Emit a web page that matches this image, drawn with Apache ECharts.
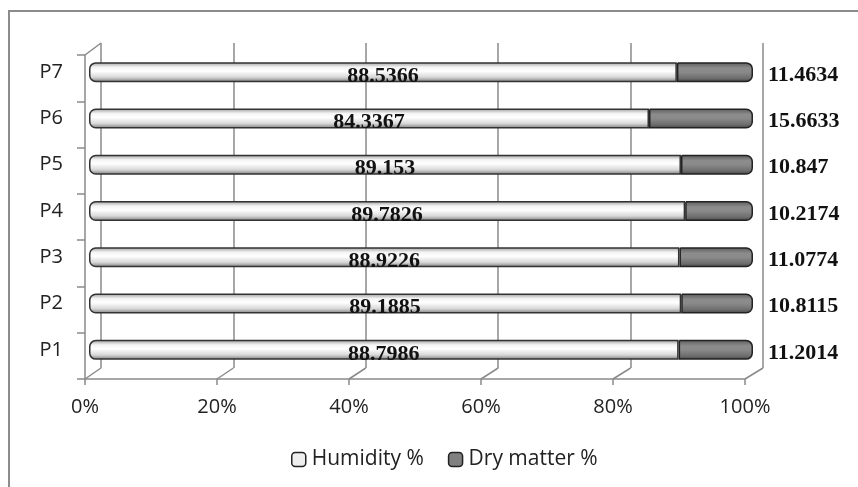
<!DOCTYPE html>
<html>
<head>
<meta charset="utf-8">
<script src="https://cdn.jsdelivr.net/npm/echarts@6/dist/echarts.min.js"></script>
<style>
html,body{margin:0;padding:0;background:#fff;}
#c{width:858px;height:487px;}
</style>
</head>
<body>
<div id="c"></div>
<script>
const categories = ['P1','P2','P3','P4','P5','P6','P7'];
const humidity = [88.7986, 89.1885, 88.9226, 89.7826, 89.153, 84.3367, 88.5366];
const dryMatter = [11.2014, 10.8115, 11.0774, 10.2174, 10.847, 15.6633, 11.4634];
const xTicks = [0, 20, 40, 60, 80, 100];

const chart = echarts.init(document.getElementById('c'), null, {renderer: 'canvas'});
const lineColor = '#8a8a8a';
const sansFont = 'Open Sans';
const serifFont = 'Liberation Serif';

const humGrad = new echarts.graphic.LinearGradient(0, 0, 0, 1, [
  {offset: 0, color: '#9a9a9a'},
  {offset: 0.25, color: '#f4f4f4'},
  {offset: 0.45, color: '#ffffff'},
  {offset: 0.75, color: '#d8d8d8'},
  {offset: 1, color: '#7a7a7a'}
]);
const dryGrad = new echarts.graphic.LinearGradient(0, 0, 0, 1, [
  {offset: 0, color: '#5a5a5a'},
  {offset: 0.3, color: '#8c8c8c'},
  {offset: 0.5, color: '#8a8a8a'},
  {offset: 0.8, color: '#6e6e6e'},
  {offset: 1, color: '#444444'}
]);

const option = {
  backgroundColor: '#fff',
  animation: false,
  grid: [
    {left: 89, right: 105, top: 49, bottom: 114},   // bars
    {left: 85, right: 113, top: 55, bottom: 108},   // front axes
    {left: 101, right: 95, top: 43, bottom: 119}    // back wall grid
  ],
  legend: {
    bottom: 12,
    left: 286,
    itemWidth: 14,
    itemHeight: 14,
    itemGap: 24,
    textStyle: {fontFamily: sansFont, fontSize: 21, color: '#222', padding: [0, 0, 0, 1]},
    data: [
      {name: 'Humidity %', itemStyle: {color: '#eeeeee', borderColor: '#222', borderWidth: 1.5}},
      {name: 'Dry matter %', itemStyle: {color: '#808080', borderColor: '#222', borderWidth: 1.5}}
    ]
  },
  xAxis: [
    {gridIndex: 0, type: 'value', min: 0, max: 100, show: false},
    {gridIndex: 1, type: 'value', min: 0, max: 100, interval: 20,
      axisLine: {show: true, lineStyle: {color: lineColor, width: 1.5}},
      axisTick: {show: true, length: 6, lineStyle: {color: lineColor, width: 1.5}},
      splitLine: {show: false},
      axisLabel: {formatter: '{value}%', fontFamily: sansFont, fontSize: 20, color: '#222', margin: 18}
    },
    {gridIndex: 2, type: 'value', min: 0, max: 100, interval: 20,
      axisLine: {show: false}, axisTick: {show: false}, axisLabel: {show: false},
      splitLine: {show: true, lineStyle: {color: lineColor, width: 1.5}}
    }
  ],
  yAxis: [
    {gridIndex: 0, type: 'category', data: categories,
      axisLine: {show: false}, axisTick: {show: false},
      axisLabel: {fontFamily: sansFont, fontSize: 20, color: '#222', margin: 26}
    },
    {gridIndex: 1, type: 'category', data: categories,
      axisLine: {show: true, lineStyle: {color: lineColor, width: 1.5}},
      axisTick: {show: true, length: 8, lineStyle: {color: lineColor, width: 1.5}},
      axisLabel: {show: false}
    },
    {gridIndex: 2, type: 'category', data: categories, show: false}
  ],
  series: [
    {
      name: 'Humidity %', type: 'bar', stack: 'tot', xAxisIndex: 0, yAxisIndex: 0,
      barWidth: 20, data: humidity, z: 5,
      itemStyle: {color: humGrad, borderColor: '#333', borderWidth: 1.5, borderRadius: [6, 0, 0, 6]},
      label: {show: true, position: 'inside', offset: [0, 4],
        fontFamily: serifFont, fontWeight: 'bold', fontSize: 22, color: '#111'}
    },
    {
      name: 'Dry matter %', type: 'bar', stack: 'tot', xAxisIndex: 0, yAxisIndex: 0,
      barWidth: 20, data: dryMatter, z: 5,
      itemStyle: {color: dryGrad, borderColor: '#222', borderWidth: 1.5, borderRadius: [0, 6, 6, 0]},
      label: {show: true, position: 'right', distance: 15, offset: [0, 3],
        fontFamily: serifFont, fontWeight: 'bold', fontSize: 22, color: '#111'}
    }
  ]
};
chart.setOption(option);

// perspective connector lines between the front axes and the back wall
const g = [];
const front = v => chart.convertToPixel({xAxisIndex: 1}, v);
const back = v => chart.convertToPixel({xAxisIndex: 2}, v);
const frontBottom = 487 - 108, backBottom = 487 - 119;
const frontTop = 55, backTop = 43;
xTicks.forEach(v => {
  g.push({type: 'line', shape: {x1: front(v), y1: frontBottom, x2: back(v), y2: backBottom},
    style: {stroke: lineColor, lineWidth: 1.5}, z: 1});
});
g.push({type: 'line', shape: {x1: front(0), y1: frontTop, x2: back(0), y2: backTop},
  style: {stroke: lineColor, lineWidth: 1.5}, z: 1});
// outer chart border (left and top visible)
g.push({type: 'rect', shape: {x: 9, y: 11, width: 900, height: 520},
  style: {fill: 'none', stroke: '#8c8c8c', lineWidth: 2}, z: 0});
chart.setOption({graphic: g});
</script>
</body>
</html>
